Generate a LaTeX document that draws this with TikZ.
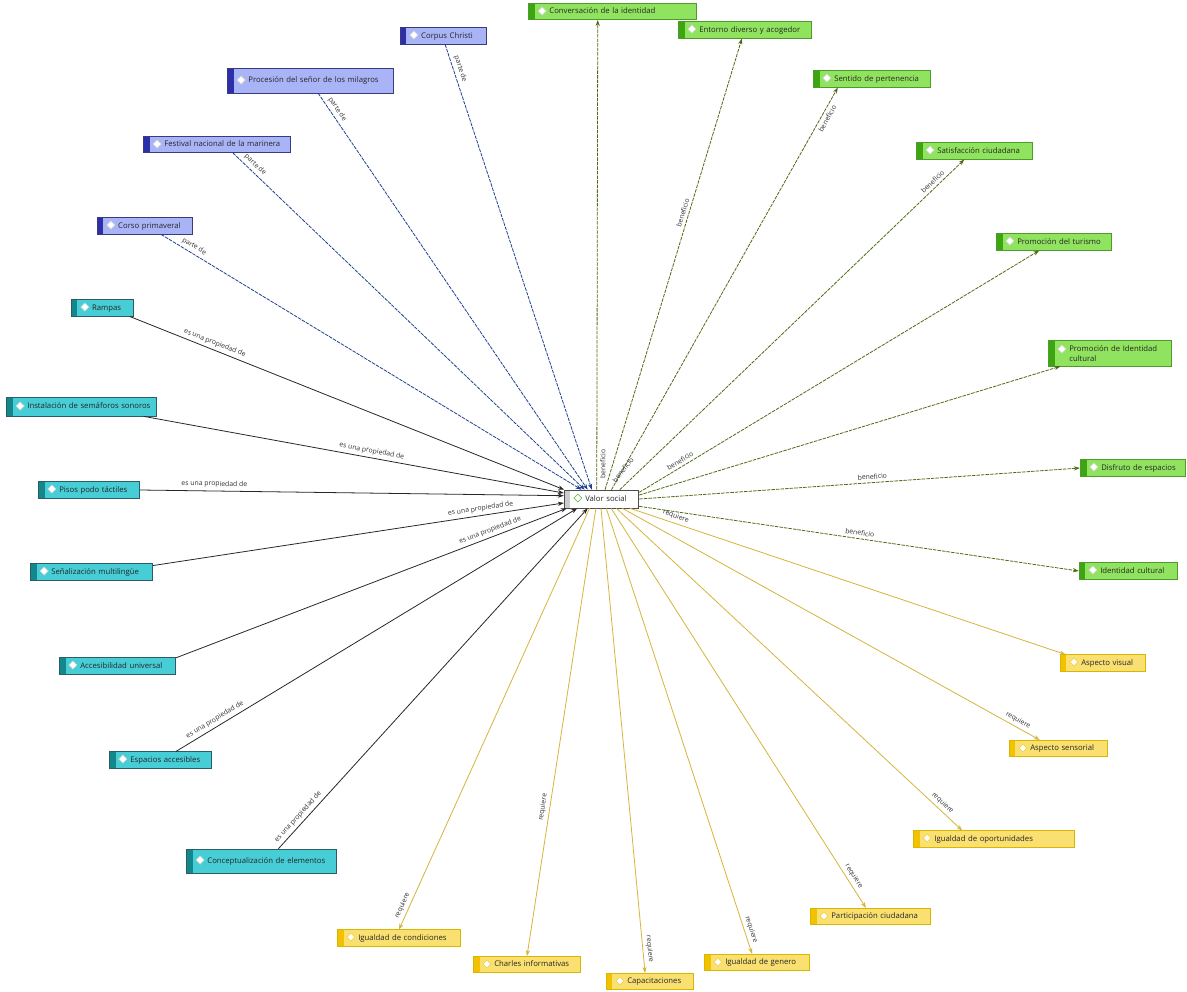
\documentclass[tikz,border=0pt]{standalone}
\usepackage{fontspec}
\setmainfont{Open Sans}
\newfontfamily\simbolos{DejaVu Sans}
\usetikzlibrary{arrows.meta}

\definecolor{azulfondo}{HTML}{A9B4F7}
\definecolor{azulbarra}{HTML}{2E2EA8}
\definecolor{azulborde}{HTML}{3A3A80}
\definecolor{cianfondo}{HTML}{46CDD5}
\definecolor{cianbarra}{HTML}{14878D}
\definecolor{cianborde}{HTML}{2A5E64}
\definecolor{verdefondo}{HTML}{90E35F}
\definecolor{verdebarra}{HTML}{3DA512}
\definecolor{verdeborde}{HTML}{4E9A2C}
\definecolor{amarillofondo}{HTML}{F9E070}
\definecolor{amarillobarra}{HTML}{F2C200}
\definecolor{amarilloborde}{HTML}{D9B600}
\definecolor{lineaazul}{HTML}{1F3F8F}
\definecolor{lineaverde}{HTML}{4D6B12}
\definecolor{lineaamarilla}{HTML}{D6B43A}

\newcommand\rombo[1]{\makebox[5pt]{\raisebox{-0.3pt}{\fontsize{6.5}{6.5}\simbolos\rlap{\textcolor{white}{◆}}\textcolor{#1}{◇}}}}

\tikzset{
  concepto/.style={rectangle, line width=0.4pt, inner xsep=1pt, inner ysep=0pt,
    minimum height=9.3pt, align=left, text=black!85,
    font=\fontsize{4.4}{5.3}\selectfont},
  barra/.style={path picture={\fill[#1] (path picture bounding box.south west)
    rectangle ([xshift=3.6pt]path picture bounding box.north west);}},
  icono/.style={execute at begin node={\hspace*{4.4pt}\rombo{#1}\hspace{1.6pt}}},
  azul/.style={concepto, draw=azulborde, fill=azulfondo, barra=azulbarra, icono=black!20},
  cian/.style={concepto, draw=cianborde, fill=cianfondo, barra=cianbarra, icono=black!20},
  verde/.style={concepto, draw=verdeborde, fill=verdefondo, barra=verdebarra, icono=black!20},
  amarillo/.style={concepto, draw=amarilloborde, fill=amarillofondo, barra=amarillobarra, icono=amarillobarra},
  central/.style={concepto, draw=black!70, fill=white, barra=black!20, icono=verdebarra, minimum height=10.2pt},
  flecha/.style={line width=0.45pt, -{Stealth[length=3.4pt,width=2.4pt]}},
  parte/.style={flecha, draw=lineaazul, dash pattern=on 2pt off 0.6pt},
  propiedad/.style={flecha, draw=black!85},
  beneficio/.style={flecha, draw=lineaverde, dash pattern=on 2pt off 0.6pt},
  requiere/.style={flecha, draw=lineaamarilla},
  lbl/.style={font=\fontsize{3.9}{4.5}\selectfont, text=black!80, inner sep=0.6pt},
  etq/.style={lbl, sloped, above=1.1pt},
  etqb/.style={lbl, sloped, below=1.1pt}
}

\begin{document}
\begin{tikzpicture}[x=0.02cm, y=-0.02cm]
  \fill[white] (0,0) rectangle (1187,991);
  \useasboundingbox (0,0) rectangle (1187,991);

  \node[central, text width=40.5pt] (vs) at (601.5,499) {Valor social};

  % parte de
  \node[azul, text width=46.8pt] (cc) at (443,36) {Corpus Christi};
  \node[azul, text width=92.7pt, minimum height=14.2pt] (psm) at (310.5,80.5) {Procesión del señor de los milagros};
  \node[azul, text width=81.9pt] (fnm) at (217,144.5) {Festival nacional de la marinera};
  \node[azul, text width=51.9pt] (cp) at (144.5,226) {Corso primaveral};

  % es una propiedad de
  \node[cian, text width=33.2pt] (ra) at (102,308) {Rampas};
  \node[cian, text width=83.6pt, minimum height=10.8pt] (iss) at (81.5,406.5) {Instalación de semáforos sonoros};
  \node[cian, text width=55.8pt] (ppt) at (89,490) {Pisos podo táctiles};
  \node[cian, text width=67.7pt] (sm) at (91.5,572) {Señalización multilingüe};
  \node[cian, text width=64.3pt] (au) at (117.5,666) {Accesibilidad universal};
  \node[cian, text width=56.4pt] (ea) at (160.5,760) {Espacios accesibles};
  \node[cian, text width=83.6pt, minimum height=13.6pt] (ce) at (261.5,861) {Conceptualización de elementos};

  % beneficio
  \node[verde, text width=93.8pt] (cid) at (612.5,11.5) {Conversación de la identidad};
  \node[verde, text width=74pt] (edac) at (745,30) {Entorno diverso y acogedor};
  \node[verde, text width=64.9pt] (sp) at (872,79) {Sentido de pertenencia};
  \node[verde, text width=64.3pt] (sc) at (974.5,151) {Satisfacción ciudadana};
  \node[verde, text width=63.8pt] (pt) at (1054,242) {Promoción del turismo};
  \node[verde, text width=68.3pt, minimum height=14.7pt] (pic) at (1110,353) {Promoción de Identidad\\\hspace*{11pt}cultural};
  \node[verde, text width=58.1pt] (de) at (1133,468) {Disfruto de espacios};
  \node[verde, text width=53.6pt] (ic) at (1128,571) {Identidad cultural};

  % requiere
  \node[amarillo, text width=46.2pt] (av) at (1102.5,663) {Aspecto visual};
  \node[amarillo, text width=53.6pt] (as) at (1058,748.5) {Aspecto sensorial};
  \node[amarillo, text width=89.9pt] (io) at (994,839) {Igualdad de oportunidades};
  \node[amarillo, text width=66.6pt] (pc) at (870.5,916.5) {Participación ciudadana};
  \node[amarillo, text width=58.1pt] (ig) at (757,962.5) {Igualdad de genero};
  \node[amarillo, text width=47.9pt] (cap) at (650,981.5) {Capacitaciones};
  \node[amarillo, text width=59.2pt] (ci) at (527,964.5) {Charles informativas};
  \node[amarillo, text width=68.3pt] (icd) at (399,938) {Igualdad de condiciones};

  \draw[parte] (cc.284) -- (vs.136.5) node[etq, pos=0.06] {parte de};
  \draw[parte] (psm.301) -- (vs.146) node[etq, pos=0.05] {parte de};
  \draw[parte] (fnm.332) -- (vs.151) node[etq, pos=0.05] {parte de};
  \draw[parte] (cp.333) -- (vs.155) node[etq, pos=0.07] {parte de};

  \draw[propiedad] (ra.343) -- (vs.166) node[etq, pos=0.19] {es una propiedad de};
  \draw[propiedad] (iss.351) -- (vs.171) node[etq, pos=0.54] {es una propiedad de};
  \draw[propiedad] (ppt.0) -- (vs.175) node[etq, pos=0.175] {es una propiedad de};
  \draw[propiedad] (sm.6) -- (vs.186) node[etq, pos=0.8] {es una propiedad de};
  \draw[propiedad] (au.8) -- (vs.195) node[etq, pos=0.81] {es una propiedad de};
  \draw[propiedad] (ea.29) -- (vs.201) node[etq, pos=0.106] {es una propiedad de};
  \draw[propiedad] (ce.36) -- (vs.214) node[etq, pos=0.08] {es una propiedad de};

  \draw[beneficio] (vs.117) -- (cid.210) node[etqb, pos=0.055] {beneficio};
  \draw[beneficio] (vs.69) -- (edac.250) node[etq, pos=0.61] {beneficio};
  \draw[beneficio] (vs.43.5) -- (sp.194) node[etqb, pos=0.93] {beneficio};
  \draw[beneficio] (vs.27) -- (sc.220) node[etq, pos=0.92] {beneficio};
  \draw[beneficio] (vs.10.6) -- (pt.210) node[etq, pos=0.11] {beneficio};
  \draw[beneficio] (vs.6) -- (pic.195) node[lbl, rotate=52] (bpic) at (623,470) {beneficio};
  \draw[beneficio] (vs.0) -- (de.180) node[etq, pos=0.53] {beneficio};
  \draw[beneficio] (vs.349) -- (ic.180) node[etq, pos=0.5] {beneficio};

  \draw[requiere] (vs.342.5) -- (av.167) node[etq, pos=0.1] {requiere};
  \draw[requiere] (vs.336) -- (as.155) node[etq, pos=0.94] {requiere};
  \draw[requiere] (vs.328) -- (io.165) node[etq, pos=0.93] {requiere};
  \draw[requiere] (vs.316.5) -- (pc.118) node[etq, pos=0.93] {requiere};
  \draw[requiere] (vs.297) -- (ig.120) node[etq, pos=0.95] {requiere};
  \draw[requiere] (vs.267) -- (cap.120) node[etq, pos=0.95] {requiere};
  \draw[requiere] (vs.239) -- (ci.90) node[etq, pos=0.67] {requiere};
  \draw[requiere] (vs.218) -- (icd.90) node[etq, pos=0.95] {requiere};
\end{tikzpicture}
\end{document}
